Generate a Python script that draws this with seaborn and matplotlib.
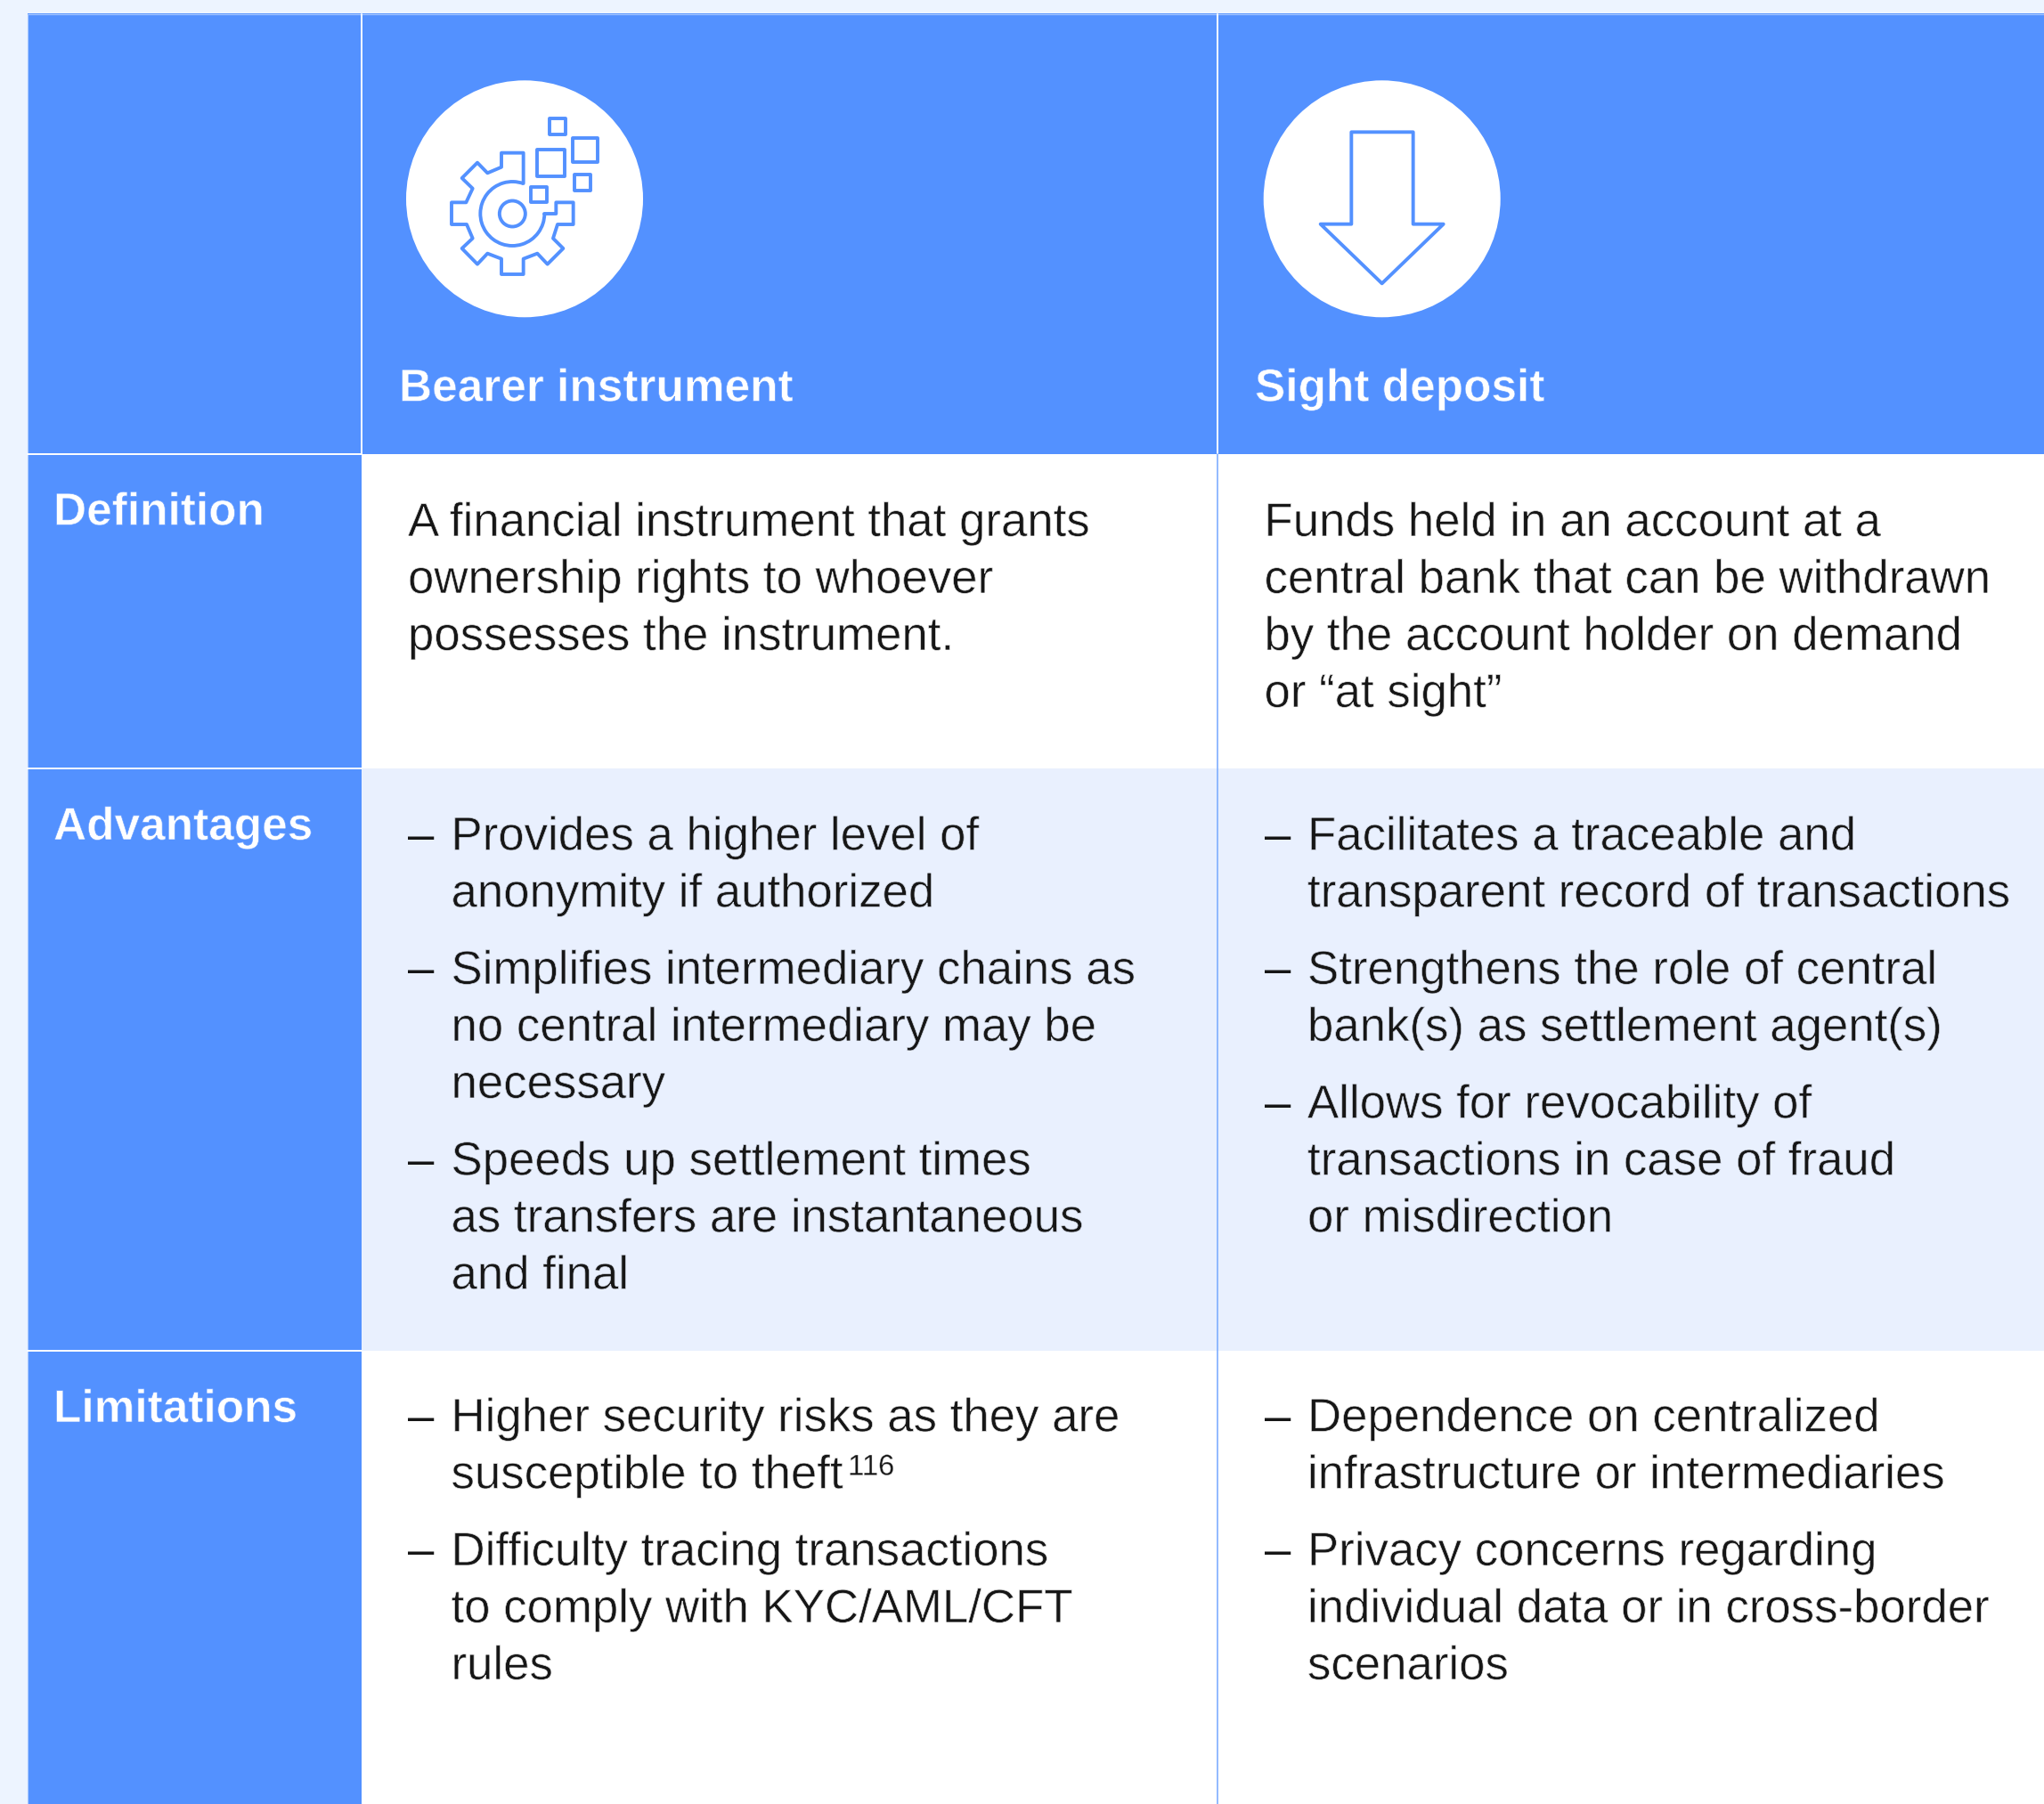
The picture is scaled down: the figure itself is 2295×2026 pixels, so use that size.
#!/usr/bin/env python3
"""Comparison table: bearer instrument vs sight deposit."""

import matplotlib

matplotlib.use("Agg")
import matplotlib.patheffects as pe
import matplotlib.pyplot as plt
from matplotlib.colors import ListedColormap
from matplotlib.patches import Arc, Circle, Polygon, Rectangle
import seaborn as sns

BLUE = "#5391FF"
LIGHT = "#E9F0FE"
PAGE = "#EDF4FF"
INK = "#161616"
BODY_FONT = ["Liberation Sans", "DejaVu Sans"]

# cell fill codes: 0 blue, 1 white, 2 light blue
row_names = ["", "Definition", "Advantages", "Limitations"]
col_names = ["Bearer instrument", "Sight deposit"]
cell_codes = [
    [0, 0, 0],
    [0, 1, 1],
    [0, 2, 2],
    [0, 1, 1],
]

bearer_definition = [
    "A financial instrument that grants",
    "ownership rights to whoever",
    "possesses the instrument.",
]
sight_definition = [
    "Funds held in an account at a",
    "central bank that can be withdrawn",
    "by the account holder on demand",
    "or “at sight”",
]
bearer_advantages = [
    ["Provides a higher level of", "anonymity if authorized"],
    ["Simplifies intermediary chains as", "no central intermediary may be", "necessary"],
    ["Speeds up settlement times", "as transfers are instantaneous", "and final"],
]
sight_advantages = [
    ["Facilitates a traceable and", "transparent record of transactions"],
    ["Strengthens the role of central", "bank(s) as settlement agent(s)"],
    ["Allows for revocability of", "transactions in case of fraud", "or misdirection"],
]
bearer_limitations = [
    ["Higher security risks as they are", "susceptible to theft"],
    ["Difficulty tracing transactions", "to comply with KYC/AML/CFT", "rules"],
]
sight_limitations = [
    ["Dependence on centralized", "infrastructure or intermediaries"],
    ["Privacy concerns regarding", "individual data or in cross-border", "scenarios"],
]
footnote_mark = "116"

# layout, in pixels of the 2295x2026 image
W, H = 2295, 2026
col_edges = [30.5, 405.5, 1367, W]
row_edges = [15.5, 510, 863, 1517, H]
TEXT_X = [458, 1419.5]
BULLET_INDENT = 48.5
LINE_STEP = 64
BULLET_GAP = 86.5
BODY_SIZE = 38.0
HEAD_SIZE = 37.0
ICON_LW = 2.8

sns.set_theme(style="white")
plt.rcParams["font.family"] = BODY_FONT

fig = plt.figure(figsize=(W / 100, H / 100), dpi=100, facecolor=PAGE)
grid = fig.add_gridspec(
    4, 3,
    left=col_edges[0] / W, right=1, top=1 - row_edges[0] / H, bottom=0,
    width_ratios=[b - a for a, b in zip(col_edges, col_edges[1:])],
    height_ratios=[b - a for a, b in zip(row_edges, row_edges[1:])],
    wspace=0, hspace=0,
)
cell_cmap = ListedColormap([BLUE, "white", LIGHT])
for r, codes in enumerate(cell_codes):
    for c, code in enumerate(codes):
        sns.heatmap(
            [[code]], vmin=0, vmax=2, cmap=cell_cmap, cbar=False,
            xticklabels=False, yticklabels=False, ax=fig.add_subplot(grid[r, c]),
        )

ax = fig.add_axes([0, 0, 1, 1], facecolor="none")
ax.set_xlim(0, W)
ax.set_ylim(H, 0)
ax.axis("off")

# rules
ax.plot([30.5, W], [15.5, 15.5], color="#A9C8FF", lw=0.8)
ax.plot([30.5, 30.5], [15.5, H], color="#A9C8FF", lw=0.8)
ax.plot([405.5, 405.5], [15.5, 510], color="white", lw=1.4)
ax.plot([1367, 1367], [15.5, 510], color="white", lw=1.4)
ax.plot([1367, 1367], [510, H], color="#7FAEFF", lw=1.2)
for y in row_edges[1:4]:
    ax.plot([30.5, 405.5], [y, y], color="white", lw=1.4)


def zoomed(x, y, x0):
    return x0 + x / 3, 80 + y / 3


# gear icon
ax.add_patch(Circle((589, 223.3), 133, fc="white", ec="none"))
gx, gy = zoomed(406, 480, 440)
ax.add_patch(Circle((gx, gy), 14.5, fill=False, ec=BLUE, lw=ICON_LW))
ax.add_patch(Arc((gx, gy), 72, 72, theta1=0, theta2=290, fill=False, ec=BLUE, lw=ICON_LW))
gear = [
    (513, 480), (553, 480), (553, 442), (611, 442), (611, 516), (558, 516), (543, 563),
    (577, 597), (524, 650), (490, 614), (443, 632), (443, 684), (369, 684), (369, 632),
    (322, 614), (288, 650), (236, 597), (272, 563), (252, 516), (201, 516), (201, 442),
    (250, 442), (272, 395), (236, 360), (288, 308), (322, 343), (369, 323), (369, 275),
    (443, 275), (443, 378),
]
gear_x, gear_y = zip(*[zoomed(x, y, 440) for x, y in gear])
ax.plot(gear_x, gear_y, color=BLUE, lw=ICON_LW, solid_joinstyle="round")
for x1, y1, x2, y2 in [
    (532, 160, 585, 213), (610, 225, 692, 307), (490, 264, 581, 355),
    (616, 349, 670, 403), (469, 390, 523, 441),
]:
    sx, sy = zoomed(x1, y1, 440)
    ax.add_patch(
        Rectangle((sx, sy), (x2 - x1) / 3, (y2 - y1) / 3, fill=False, ec=BLUE, lw=ICON_LW, joinstyle="round")
    )

# arrow icon
ax.add_patch(Circle((1551.7, 223.3), 133, fc="white", ec="none"))
arrow = [(352, 205), (560, 205), (560, 515), (662, 515), (455, 715), (248, 515), (352, 515)]
ax.add_patch(
    Polygon([zoomed(x, y, 1400) for x, y in arrow], closed=True, fill=False, ec=BLUE, lw=ICON_LW, joinstyle="round")
)


def thin(bg, width):
    # Liberation Sans is heavier than the light face of the original, so trim the glyph edges
    return [pe.Normal(), pe.Stroke(linewidth=width, foreground=bg)]


# headers
for x, name in zip([448, 1409], col_names):
    ax.text(x, 450.5, name, color="white", fontsize=HEAD_SIZE, weight="bold", va="baseline", path_effects=thin(BLUE, 0.5))
for y, name in zip([589.5, 943, 1597], row_names[1:]):
    ax.text(60, y, name, color="white", fontsize=HEAD_SIZE, weight="bold", va="baseline", path_effects=thin(BLUE, 0.5))


def body_lines(x, y, lines, bg):
    last = None
    for line in lines:
        last = ax.text(x, y, line, color=INK, fontsize=BODY_SIZE, va="baseline", path_effects=thin(bg, 0.5))
        y += LINE_STEP
    return last


def bullets(x, y, items, bg):
    last = None
    for item in items:
        ax.text(x, y, "–", color=INK, fontsize=BODY_SIZE, va="baseline")
        last = body_lines(x + BULLET_INDENT, y, item, bg)
        y += LINE_STEP * (len(item) - 1) + BULLET_GAP
    return last


body_lines(TEXT_X[0], 602, bearer_definition, "white")
body_lines(TEXT_X[1], 602, sight_definition, "white")
bullets(TEXT_X[0], 954.5, bearer_advantages, LIGHT)
bullets(TEXT_X[1], 954.5, sight_advantages, LIGHT)
bullets(TEXT_X[1], 1607.5, sight_limitations, "white")

# footnote mark sits right after the second line of the first limitation
bullets(TEXT_X[0], 1758, bearer_limitations[1:], "white")
theft = bullets(TEXT_X[0], 1607.5, bearer_limitations[:1], "white")
box = theft.get_window_extent(fig.canvas.get_renderer())
ax.text(box.x1 + 6, 1671.5 - 15, footnote_mark, color=INK, fontsize=BODY_SIZE * 0.62, va="baseline", path_effects=thin("white", 0.3))

fig.savefig("out.png", dpi=100, facecolor=PAGE)
plt.close(fig)
